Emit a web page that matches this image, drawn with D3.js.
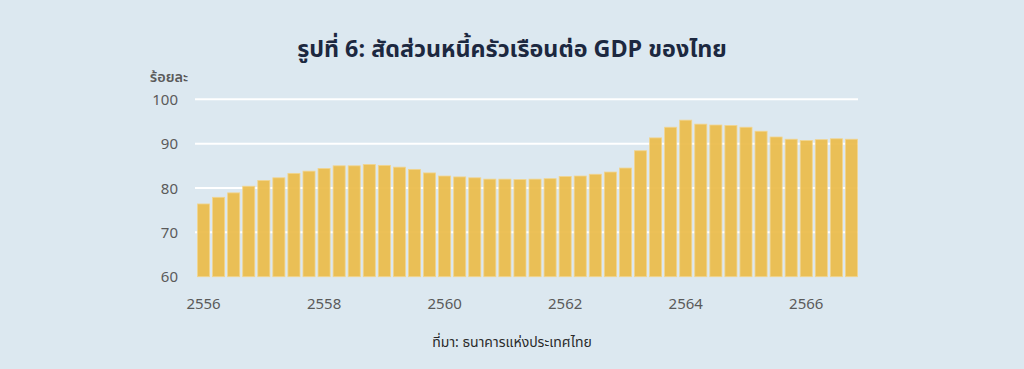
<!DOCTYPE html>
<html>
<head>
<meta charset="utf-8">
<script src="https://cdn.jsdelivr.net/npm/d3@7"></script>
<style>
  html, body { margin: 0; padding: 0; background: #dce8f0; }
  svg { display: block; }
</style>
</head>
<body>
<svg id="chart" width="1024" height="369"></svg>
<script>
const title = "รูปที่ 6: สัดส่วนหนี้ครัวเรือนต่อ GDP ของไทย";
const yUnit = "ร้อยละ";
const source = "ที่มา: ธนาคารแห่งประเทศไทย";
const years = [2556, 2557, 2558, 2559, 2560, 2561, 2562, 2563, 2564, 2565, 2566];
const quarters = ["Q1", "Q2", "Q3", "Q4"];
const values = [
  76.4, 77.9, 78.9, 80.4,
  81.7, 82.3, 83.3, 83.8,
  84.4, 85.0, 85.0, 85.3,
  85.1, 84.7, 84.2, 83.4,
  82.7, 82.5, 82.3, 82.0,
  82.0, 81.9, 82.0, 82.1,
  82.6, 82.7, 83.1, 83.6,
  84.5, 88.4, 91.3, 93.7,
  95.3, 94.4, 94.2, 94.1,
  93.7, 92.8, 91.5, 91.0,
  90.7, 90.9, 91.1, 91.0
];
const yTicks = [60, 70, 80, 90, 100];
const xTickYears = [2556, 2558, 2560, 2562, 2564, 2566];

const categories = [];
years.forEach(y => quarters.forEach(q => categories.push(y + "-" + q)));
const data = categories.map((c, i) => ({ key: c, year: +c.split("-")[0], q: c.split("-")[1], value: values[i] }));

const svg = d3.select("#chart");
const font = "'Noto Sans Thai', 'Noto Sans', 'Open Sans', sans-serif";

const x = d3.scaleBand().domain(categories).range([196, 859]).paddingInner(0.2).paddingOuter(0.1);
const y = d3.scaleLinear().domain([60, 100]).range([276.7, 99.3]);

// gridlines
svg.append("g").selectAll("line").data(yTicks.slice(1)).join("line")
  .attr("x1", 195).attr("x2", 858)
  .attr("y1", d => y(d)).attr("y2", d => y(d))
  .attr("stroke", "#ffffff").attr("stroke-width", 2);

// bars
svg.append("g").selectAll("rect").data(data).join("rect")
  .attr("x", d => x(d.key))
  .attr("width", x.bandwidth())
  .attr("y", d => y(d.value))
  .attr("height", d => y(60) - y(d.value))
  .attr("fill", "#ebbb4a")
  .attr("fill-opacity", 0.93)
  .attr("stroke", "#f2d58f")
  .attr("stroke-width", 0.8);

// y axis
const yAxis = d3.axisLeft(y).tickValues(yTicks).tickSize(0).tickPadding(0);
const gy = svg.append("g").attr("transform", "translate(178,0)").call(yAxis);
gy.select(".domain").remove();
gy.selectAll("text").attr("font-family", font).attr("font-size", 15).attr("fill", "#5a5a5a").attr("dy", "0.35em");

svg.append("text").attr("x", 169).attr("y", 82).attr("text-anchor", "middle")
  .attr("font-family", font).attr("font-size", 14.5).attr("font-weight", 600).attr("fill", "#5a5a5a").text(yUnit);

// x axis
const xAxis = d3.axisBottom(x).tickValues(xTickYears.map(yv => yv + "-Q1")).tickFormat(d => d.split("-")[0]).tickSize(0).tickPadding(0);
const gx = svg.append("g").attr("transform", "translate(0,298)").call(xAxis);
gx.select(".domain").remove();
gx.selectAll("text").attr("font-family", font).attr("font-size", 15).attr("fill", "#5a5a5a").attr("dy", "0.71em");

// title
svg.append("text").attr("x", 512).attr("y", 57).attr("text-anchor", "middle")
  .attr("font-family", font).attr("font-size", 23.3).attr("font-weight", 700).attr("fill", "#1c2840").text(title);

// source
svg.append("text").attr("x", 512).attr("y", 347).attr("text-anchor", "middle")
  .attr("font-family", font).attr("font-size", 14).attr("fill", "#2a2a2a").text(source);
</script>
</body>
</html>
